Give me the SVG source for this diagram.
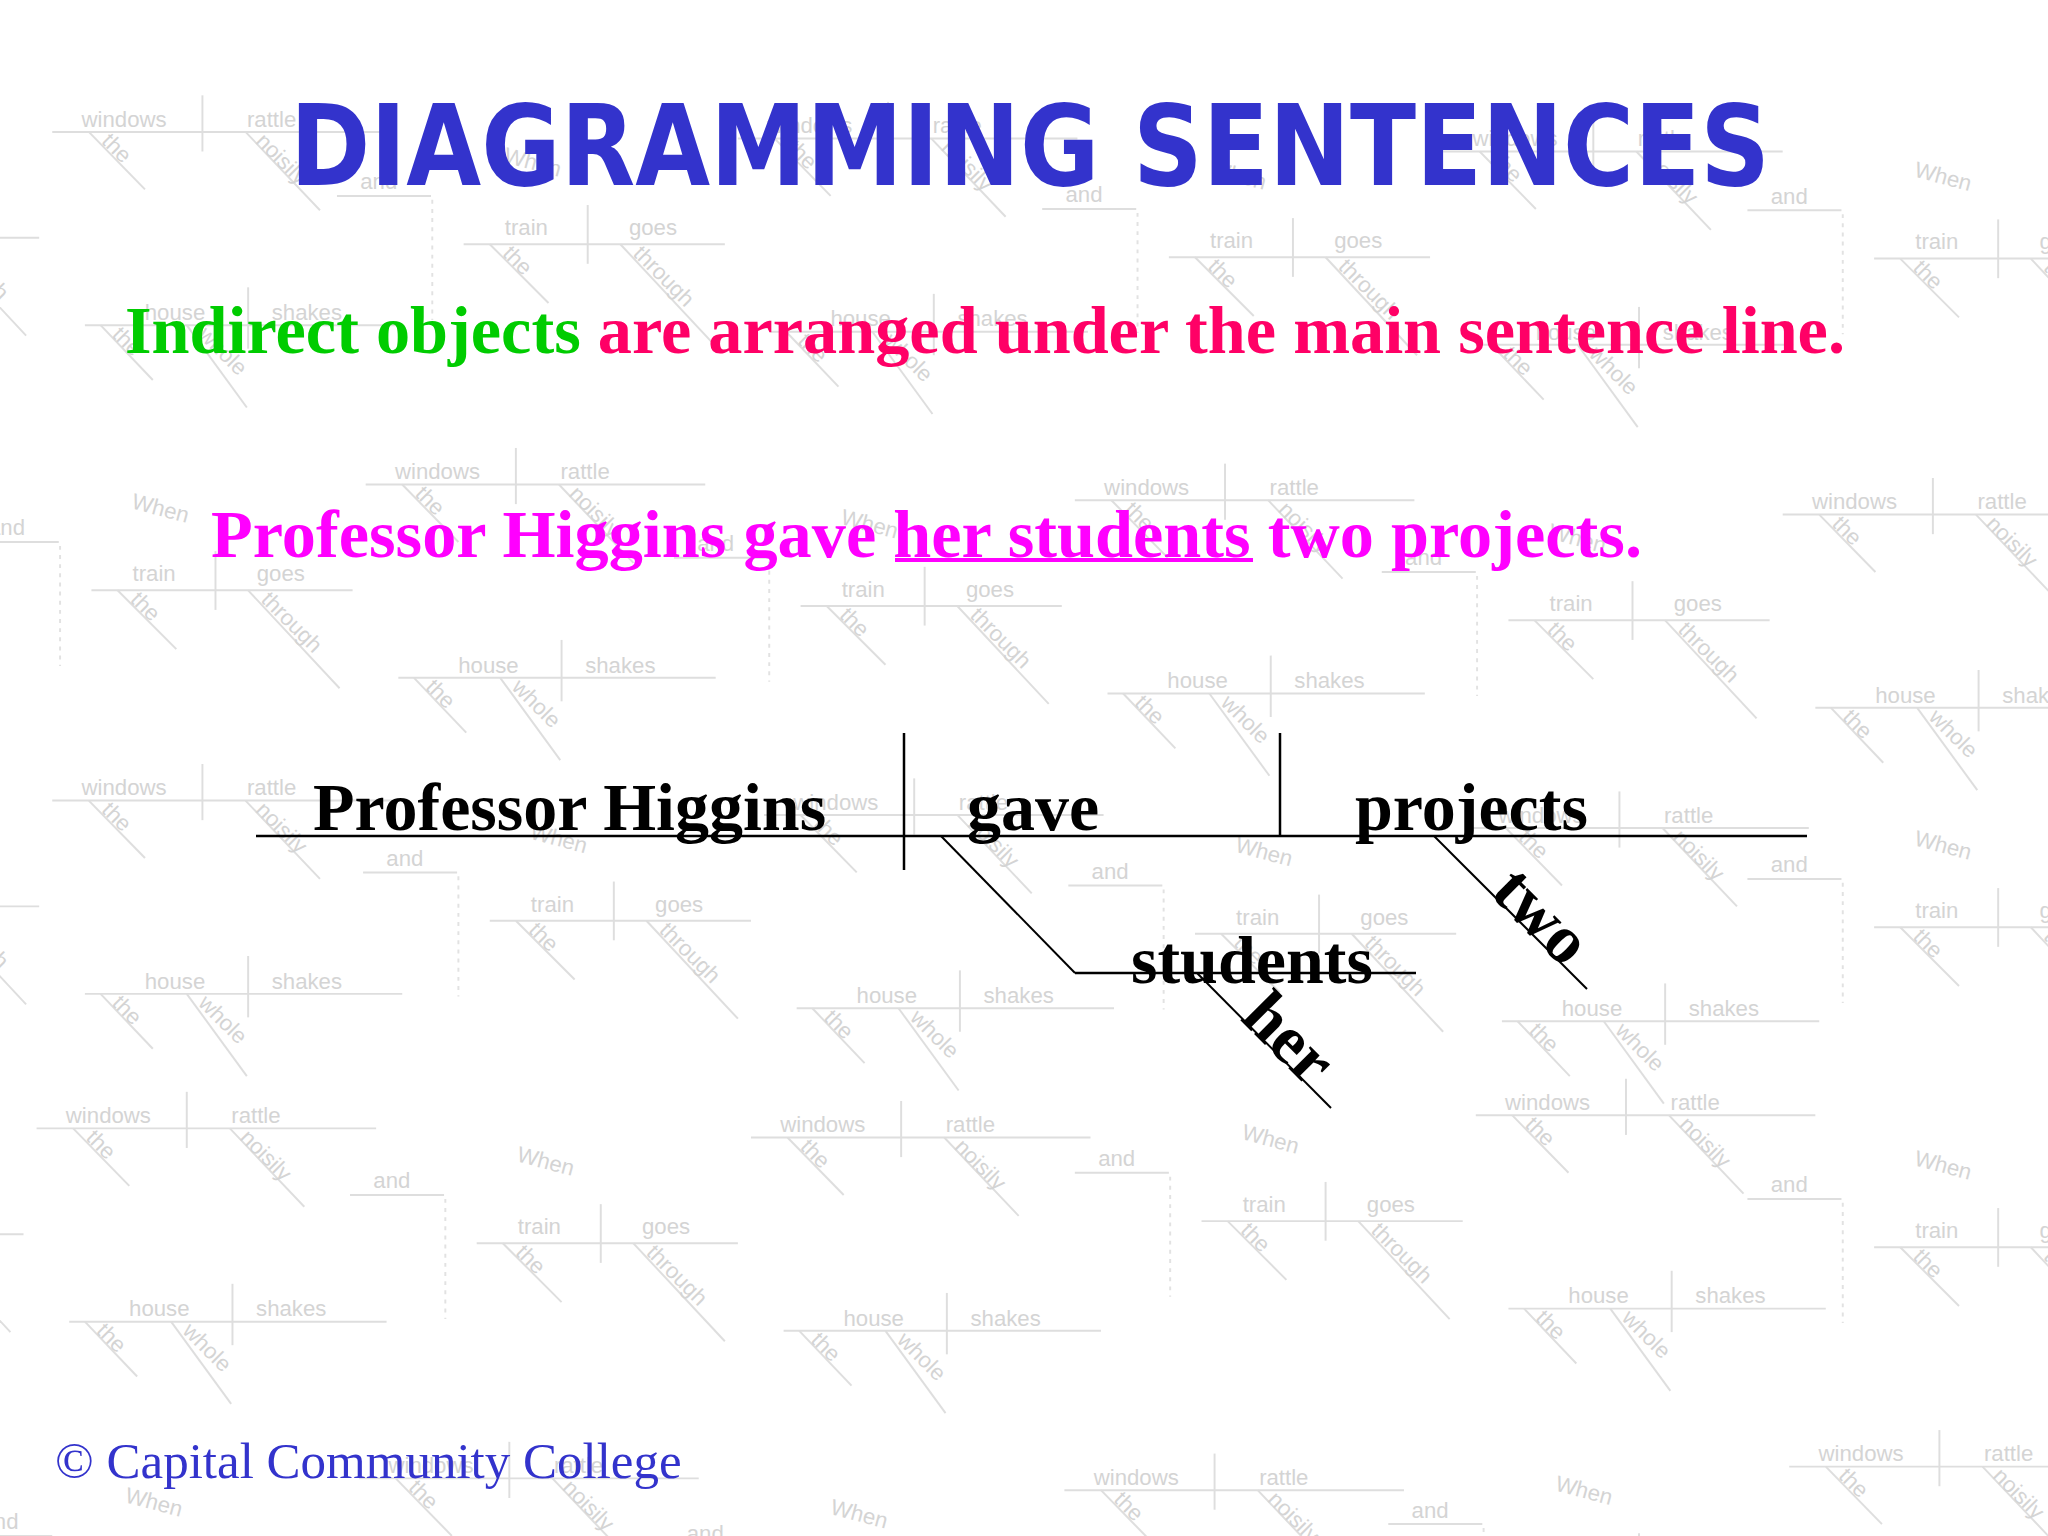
<svg xmlns="http://www.w3.org/2000/svg" xmlns:xlink="http://www.w3.org/1999/xlink" width="2048" height="1536" viewBox="0 0 2048 1536">
  <style>
    .wmt { font-family: "Liberation Sans", Arial, sans-serif; font-size: 17px; fill: #d4d4d4; }
    .wml { stroke: #dedede; stroke-width: 1.5; fill: none; }
    .wmd { stroke: #e2e2e2; stroke-width: 1.5; fill: none; stroke-dasharray: 3 4; }
    .word { font-family: "Liberation Serif", "Times New Roman", serif; font-weight: bold; font-size: 68px; fill: #000000; }
    .ln { stroke: #000000; stroke-width: 2.5; fill: none; }
    .dg { stroke: #000000; stroke-width: 2; fill: none; }
  </style>
  <defs>
    <g id="wm">
      <text class="wmt" x="0" y="0" text-anchor="middle">windows</text>
      <line class="wml" x1="60" y1="-24" x2="60" y2="19"/>
      <text class="wmt" x="113" y="0" text-anchor="middle">rattle</text>
      <line class="wml" x1="-55" y1="4" x2="205" y2="4"/>
      <line class="wml" x1="-27" y1="4" x2="16" y2="48"/>
      <text class="wmt" transform="translate(-18,12) rotate(45)">the</text>
      <line class="wml" x1="93" y1="4" x2="150" y2="64"/>
      <text class="wmt" transform="translate(100,12) rotate(45)">noisily</text>
      <text class="wmt" transform="translate(-235,22) rotate(15)">When</text>
      <line class="wml" x1="-362" y1="48" x2="-290" y2="48"/>
      <text class="wmt" x="-330" y="43" text-anchor="middle">and</text>
      <line class="wmd" x1="-289" y1="51" x2="-289" y2="143"/>
      <text class="wmt" x="-217" y="78" text-anchor="middle">train</text>
      <line class="wml" x1="-170" y1="55" x2="-170" y2="100"/>
      <text class="wmt" x="-120" y="78" text-anchor="middle">goes</text>
      <line class="wml" x1="-265" y1="85" x2="-65" y2="85"/>
      <line class="wml" x1="-245" y1="85" x2="-200" y2="130"/>
      <text class="wmt" transform="translate(-236,93) rotate(45)">the</text>
      <line class="wml" x1="-145" y1="85" x2="-75" y2="160"/>
      <text class="wmt" transform="translate(-136,93) rotate(45)">through</text>
      <text class="wmt" x="39" y="148" text-anchor="middle">house</text>
      <line class="wml" x1="95" y1="123" x2="95" y2="170"/>
      <text class="wmt" x="140" y="148" text-anchor="middle">shakes</text>
      <line class="wml" x1="-30" y1="152" x2="213" y2="152"/>
      <line class="wml" x1="-18" y1="152" x2="22" y2="194"/>
      <text class="wmt" transform="translate(-10,160) rotate(45)">the</text>
      <line class="wml" x1="48" y1="152" x2="94" y2="215"/>
      <text class="wmt" transform="translate(56,160) rotate(45)">whole</text>
    </g>
  </defs>
  <rect x="0" y="0" width="2048" height="1536" fill="#ffffff"/>
  <g id="watermark" transform="scale(1.306)">
    <use xlink:href="#wm" x="95" y="97"/>
    <use xlink:href="#wm" x="620" y="102"/>
    <use xlink:href="#wm" x="1160" y="112"/>
    <use xlink:href="#wm" x="1700" y="113"/>
    <use xlink:href="#wm" x="335" y="367"/>
    <use xlink:href="#wm" x="878" y="379"/>
    <use xlink:href="#wm" x="1420" y="390"/>
    <use xlink:href="#wm" x="95" y="609"/>
    <use xlink:href="#wm" x="640" y="620"/>
    <use xlink:href="#wm" x="1180" y="630"/>
    <use xlink:href="#wm" x="1700" y="625"/>
    <use xlink:href="#wm" x="83" y="860"/>
    <use xlink:href="#wm" x="630" y="867"/>
    <use xlink:href="#wm" x="1185" y="850"/>
    <use xlink:href="#wm" x="1700" y="870"/>
    <use xlink:href="#wm" x="330" y="1128"/>
    <use xlink:href="#wm" x="870" y="1137"/>
    <use xlink:href="#wm" x="1425" y="1119"/>
  </g>
  <g id="title">
    <text x="290" y="185" textLength="1480" lengthAdjust="spacingAndGlyphs" font-family="'DejaVu Sans', Verdana, sans-serif" font-weight="bold" font-size="112" fill="#3333CC">DIAGRAMMING SENTENCES</text>
  </g>
  <g id="rule">
    <text x="125" y="353" textLength="1720" lengthAdjust="spacingAndGlyphs" font-family="'Liberation Serif', 'Times New Roman', serif" font-weight="bold" font-size="68"><tspan fill="#00CC00">Indirect objects</tspan><tspan fill="#FF0066"> are arranged under the main sentence line.</tspan></text>
  </g>
  <g id="example">
    <text x="211" y="557" textLength="1431" lengthAdjust="spacingAndGlyphs" font-family="'Liberation Serif', 'Times New Roman', serif" font-weight="bold" font-size="68" fill="#FF00FF">Professor Higgins gave her students two projects.</text>
    <rect x="895" y="558" width="358" height="4" fill="#FF00FF"/>
  </g>
  <g id="connectors">
    <line class="ln" x1="256" y1="836" x2="1807" y2="836"/>
    <line class="ln" x1="904" y1="733" x2="904" y2="870"/>
    <line class="ln" x1="1280" y1="733" x2="1280" y2="836"/>
    <line class="dg" x1="941" y1="836" x2="1075" y2="973"/>
    <line class="ln" x1="1075" y1="973" x2="1416" y2="973"/>
    <line class="dg" x1="1197" y1="973" x2="1331" y2="1108"/>
    <line class="dg" x1="1434" y1="836" x2="1587" y2="989"/>
  </g>
  <g id="node-subject"><text class="word" x="313" y="830">Professor Higgins</text></g>
  <g id="node-verb"><text class="word" x="967" y="830">gave</text></g>
  <g id="node-object"><text class="word" x="1355" y="830">projects</text></g>
  <g id="node-indirect"><text class="word" x="1131" y="983">students</text></g>
  <g id="node-her"><text class="word" transform="translate(1239,1019) rotate(45)">her</text></g>
  <g id="node-two"><text class="word" transform="translate(1489,894) rotate(45)">two</text></g>
  <g id="footer">
    <text x="55" y="1478" font-family="'Liberation Serif', 'Times New Roman', serif" font-size="51" fill="#3333CC">© Capital Community College</text>
  </g>
</svg>
